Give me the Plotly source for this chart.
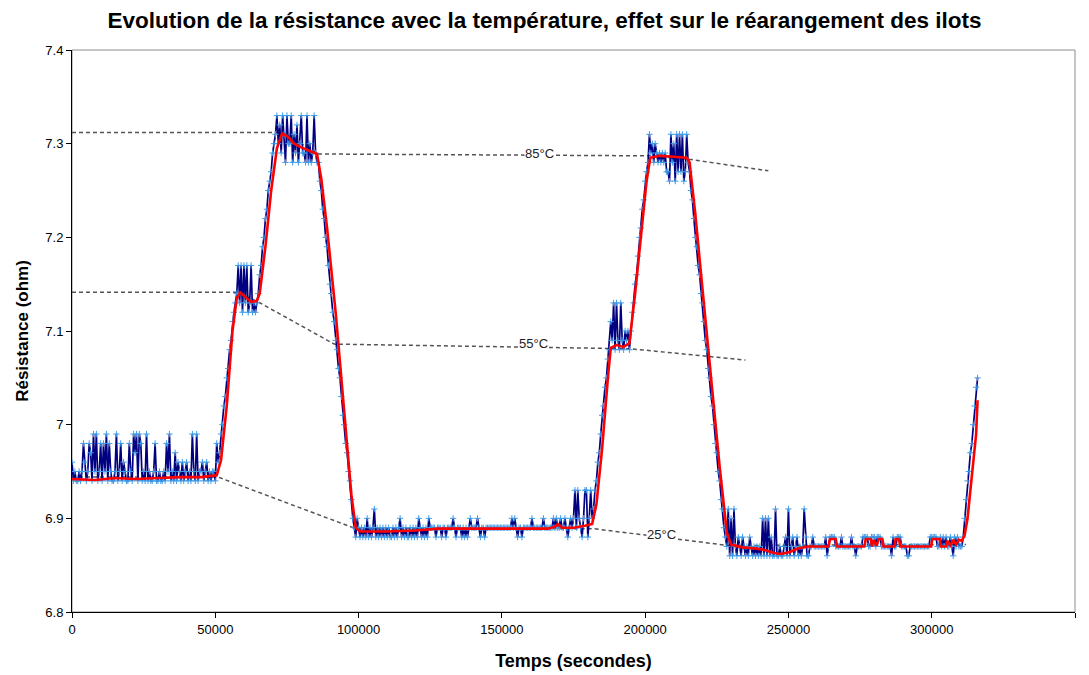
import plotly.graph_objects as go

# Resistance log sampled every 500 s.
SAMPLE_PERIOD_S = 500

# Each entry is either a plateau (base value in ohm, digits = extra 0.01 ohm steps)
# or a ramp (explicit list of readings in ohm).
plateau_25a = (6.94,
               "2010010142" "0143051501" "4041504100" "1501402100" "4105350540"
               "1050100140" "0100104150" "1030210201" "2010510501" "1201201011" "04")
ramp_25_55a = [6.96, 6.97, 6.99, 7.00, 7.02, 7.03, 7.05, 7.06, 7.08, 7.09, 7.11, 7.12]
plateau_55a = (7.12, "1251505150150101")
ramp_55_85a = [7.14, 7.16, 7.17, 7.19, 7.20, 7.22, 7.23, 7.25, 7.26, 7.27, 7.29, 7.30]
plateau_85a = (7.28, "3524153052" "2503140251" "1050201510")
fall_85_25a = [7.28, 7.26, 7.25, 7.23, 7.22, 7.20, 7.19, 7.17, 7.15, 7.14, 7.12, 7.11, 7.09,
               7.08, 7.06, 7.05, 7.03, 7.01, 7.00, 6.98, 6.97, 6.95, 6.94, 6.92, 6.90, 6.89]
plateau_25b = (6.88,
               "0210101020" "1013010101" "0101001010" "1201010010" "1010210101" "021"
               "1110111011" "0111121011" "1010101211" "1121011011" "1111111111"
               "1111112121" "0110111111" "2111111121" "1111121211" "2112101212"
               "5152102550" "25")
ramp_25_55b = [6.90, 6.91, 6.93, 6.94, 6.96, 6.97, 6.99, 7.01, 7.02, 7.04, 7.05, 7.07, 7.08]
plateau_55b = (7.08, "31505105102120")
ramp_55_85b = [7.10, 7.12, 7.13, 7.15, 7.16, 7.18, 7.20, 7.21, 7.23, 7.24, 7.26, 7.27]
plateau_85b = (7.26, "2534243232" "3231105240" "515150152")
fall_85_25b = [7.27, 7.25, 7.24, 7.22, 7.20, 7.19, 7.17, 7.16, 7.14, 7.13, 7.11, 7.09, 7.08, 7.06,
               7.05, 7.03, 7.02, 7.00, 6.98, 6.97, 6.95, 6.94, 6.92, 6.91, 6.89, 6.88, 6.87]
plateau_25c = (6.86,
               "5040510210" "2101021010" "1010404040" "2005001001" "2050120120" "10"
               "1520011211" "1111112012" "2221111211" "1111211011" "1122221122"
               "2122211111" "1102112221" "1110011111" "1111111112" "2222112121"
               "2112102121" "1")
ramp_final = [6.87, 6.88, 6.90, 6.92, 6.94, 6.95, 6.97, 6.98, 7.00, 7.02, 7.04, 7.05]

segments = [plateau_25a, ramp_25_55a, plateau_55a, ramp_55_85a, plateau_85a, fall_85_25a,
            plateau_25b, ramp_25_55b, plateau_55b, ramp_55_85b, plateau_85b, fall_85_25b,
            plateau_25c, ramp_final]

resistance = []
for seg in segments:
    if isinstance(seg, tuple):
        base, digits = seg
        resistance.extend(round(base + 0.01 * int(d), 2) for d in digits)
    else:
        resistance.extend(seg)
time_s = [SAMPLE_PERIOD_S * i for i in range(len(resistance))]

# Moving-average trend of the resistance.
trend_t = [0, 8000, 15000, 22000, 30000, 38000, 45000, 50500,
           52000, 54000, 56000, 57500, 58700, 60500, 62500, 64500, 65500,
           67500, 69500, 71500, 73300, 75500, 77500, 80000, 83000, 85500,
           87000, 89000, 92000, 95000, 97500, 99000, 100500,
           110000, 120000, 128000, 150000, 166000, 168500, 169500, 171000, 175000, 179000, 181500,
           183000, 185000, 187000, 188000, 190000, 192500, 194500,
           196500, 198500, 200500, 201800, 205000, 210000, 214500, 215500,
           217500, 220000, 223000, 226000, 228500, 230000, 234000, 238000, 242000, 245000,
           247500, 250500, 253500, 257000,
           264000, 264500, 266500, 267000, 276500, 277000, 278700, 279200, 279600, 280800,
           281500, 282800, 283200, 287000, 287400, 288600, 289000, 299800, 300200, 302800,
           303200, 305000, 305400, 306500, 307500, 308500, 309500, 310500,
           311500, 312500, 313500, 314500, 315500, 316000]
trend_v = [6.942, 6.941, 6.943, 6.942, 6.943, 6.944, 6.944, 6.946,
           6.962, 7.02, 7.10, 7.135, 7.141, 7.136, 7.131, 7.132, 7.140,
           7.19, 7.25, 7.295, 7.311, 7.307, 7.300, 7.296, 7.292, 7.289,
           7.262, 7.21, 7.12, 7.01, 6.925, 6.890, 6.886,
           6.886, 6.887, 6.889, 6.889, 6.889, 6.891, 6.894, 6.890, 6.890, 6.892, 6.894,
           6.915, 6.975, 7.05, 7.082, 7.085, 7.083, 7.087,
           7.14, 7.20, 7.26, 7.285, 7.287, 7.286, 7.285, 7.28,
           7.225, 7.145, 7.05, 6.955, 6.885, 6.872, 6.869, 6.868, 6.866, 6.863,
           6.862, 6.864, 6.868, 6.870,
           6.870, 6.878, 6.878, 6.870, 6.870, 6.878, 6.878, 6.870, 6.877, 6.871,
           6.878, 6.878, 6.870, 6.870, 6.878, 6.878, 6.870, 6.870, 6.878, 6.878,
           6.870, 6.870, 6.876, 6.871, 6.877, 6.872, 6.877, 6.876,
           6.882, 6.90, 6.93, 6.96, 6.99, 7.026]

# Temperature reference levels.
level_85_t = [0, 73500, 86000, 202000, 216000, 243000]
level_85_v = [7.312, 7.312, 7.289, 7.287, 7.283, 7.271]
level_55_t = [0, 57500, 65000, 91500, 195000, 235000]
level_55_v = [7.1415, 7.1415, 7.131, 7.086, 7.081, 7.069]
level_25_t = [0, 51000, 99000, 182000, 229000, 312000]
level_25_v = [6.944, 6.944, 6.889, 6.889, 6.871, 6.872]

level_labels = ["85°C", "55°C", "25°C"]
label_t = [163300, 160900, 205600]
label_v = [7.289, 7.087, 6.883]

FONT = "Liberation Sans, Arial, sans-serif"

fig = go.Figure()
for lt, lv in [(level_85_t, level_85_v), (level_55_t, level_55_v), (level_25_t, level_25_v)]:
    fig.add_trace(go.Scatter(x=lt, y=lv, mode="lines", hoverinfo="skip",
                             line=dict(color="#555555", width=1.5, dash="4px,3px")))

fig.add_trace(go.Scatter(
    x=time_s, y=resistance, mode="lines+markers",
    line=dict(color="#000080", width=1.7),
    marker=dict(symbol="cross-thin", size=4.5, line=dict(width=1, color="#3d9be9")),
))
fig.add_trace(go.Scatter(x=trend_t, y=trend_v, mode="lines",
                         line=dict(color="#ff0000", width=2.6)))

for txt, tx, ty in zip(level_labels, label_t, label_v):
    fig.add_annotation(x=tx, y=ty, text=txt, showarrow=False, bgcolor="white",
                       font=dict(family=FONT, size=13, color="#222222"), borderpad=0)

# Plot-area frame (grey), axes drawn in black on left and bottom.
fig.add_shape(type="rect", xref="paper", yref="paper", x0=0, y0=0, x1=1, y1=1,
              line=dict(color="#8c8c8c", width=1), layer="below")

fig.update_layout(
    width=1089, height=675,
    margin=dict(l=72, r=14, t=50, b=63),
    paper_bgcolor="white", plot_bgcolor="white",
    showlegend=False,
    font=dict(family=FONT, color="black"),
    title=dict(text="<b>Evolution de la résistance avec la température, effet sur le réarangement des ilots</b>",
               x=0.5, xanchor="center", y=0.97, yanchor="middle",
               font=dict(family=FONT, size=22.5, color="black")),
    xaxis=dict(range=[0, 350000], dtick=50000, tickformat="d", automargin=False,
               showgrid=False, zeroline=False, showline=True, linecolor="black", linewidth=1,
               ticks="outside", ticklen=5, tickcolor="black",
               tickfont=dict(family=FONT, size=13, color="black"),
               title=dict(text="<b>Temps (secondes)</b>", standoff=18,
                          font=dict(family=FONT, size=18, color="black"))),
    yaxis=dict(range=[6.8, 7.4], dtick=0.1, automargin=False,
               showgrid=False, zeroline=False, showline=True, linecolor="black", linewidth=1,
               ticks="outside", ticklen=5, tickcolor="black",
               tickfont=dict(family=FONT, size=13, color="black"),
               title=dict(text="<b>Résistance (ohm)</b>", standoff=12,
                          font=dict(family=FONT, size=17, color="black"))),
)

fig.write_html("out.html")
